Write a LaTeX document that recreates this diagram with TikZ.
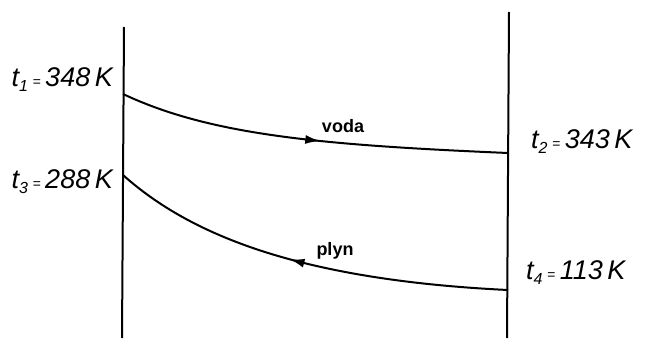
\documentclass[tikz,border=0pt]{standalone}
\usepackage{fontspec}
\setmainfont{Liberation Sans}
\usetikzlibrary{decorations.markings,arrows.meta}
\newcommand{\sbs}[1]{\raisebox{-5pt}{\fontsize{16}{16}\selectfont #1}}
\newcommand{\eqs}{\,{\fontsize{14}{14}\selectfont =}\,}
\begin{document}
\begin{tikzpicture}[x=1pt,y=-1pt,
  wall/.style={line width=2pt},
  flow/.style={line width=2pt},
  templab/.style={font=\fontsize{27}{30}\selectfont\itshape, inner sep=0pt},
  medlab/.style={font=\fontsize{18}{20}\selectfont\bfseries, inner sep=0pt},
  fwd/.style={postaction={decorate},decoration={markings,mark=at position #1 with {\arrow{Latex[length=15pt,width=9pt]}}}},
  bwd/.style={postaction={decorate},decoration={markings,mark=at position #1 with {\arrowreversed{Latex[length=15pt,width=9pt]}}}}]
\useasboundingbox (0,0) rectangle (654,340);
% walls
\coordinate (lt) at (124,27);
\coordinate (lb) at (122,338);
\coordinate (rt) at (509,12);
\coordinate (rb) at (507,338);
\draw[wall] (lt) -- (lb);
\draw[wall] (rt) -- (rb);
% curve endpoints
\coordinate (a1) at (123,94);
\coordinate (a2) at (508,153);
\coordinate (b1) at (123,175);
\coordinate (b2) at (508,290);
\draw[flow,fwd=0.52] (a1) .. controls (210,135) and (320,145) .. (a2);
\draw[flow,bwd=0.46] (b1) .. controls (190,235) and (300,280) .. (b2);
% labels
\node[templab,anchor=east] (t1) at (113,80) {t\sbs{1}\eqs 348\,K};
\node[templab,anchor=east] (t3) at (113,182) {t\sbs{3}\eqs 288\,K};
\node[templab,anchor=west] (t2) at (531,142) {t\sbs{2}\eqs 343\,K};
\node[templab,anchor=west] (t4) at (526,273) {t\sbs{4}\eqs 113\,K};
\node[medlab] (voda) at (343,126) {voda};
\node[medlab] (plyn) at (335,251) {plyn};
\end{tikzpicture}
\end{document}
